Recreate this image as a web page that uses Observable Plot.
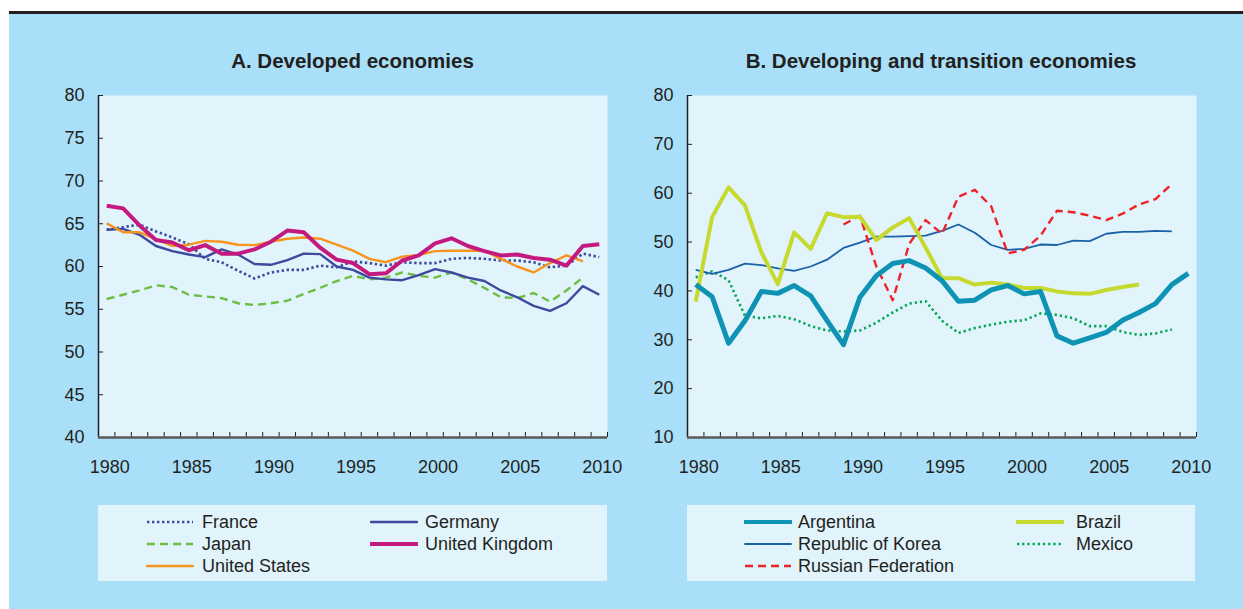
<!DOCTYPE html>
<html><head><meta charset="utf-8">
<script src="https://cdn.jsdelivr.net/npm/d3@7"></script>
<script src="https://cdn.jsdelivr.net/npm/@observablehq/plot@0.6"></script>
<style>
body{margin:0;background:#fff;font-family:Arial,"Liberation Sans",sans-serif;}
#wrap{position:relative;width:1243px;height:609px;overflow:hidden;background:#fff;}
#panel{position:absolute;left:9px;top:13px;width:1234px;height:596px;background:#a9dff8;}
#rule{position:absolute;left:9px;top:11px;width:1234px;height:2.5px;background:#231f20;}
.title{position:absolute;top:49px;font-weight:bold;font-size:20.5px;line-height:24px;color:#231f20;text-align:center;}
.chart{position:absolute;top:80px;}
.legend{position:absolute;top:505px;height:76px;background:#e1f4fb;}
.sw{position:absolute;}
.lt{position:absolute;font-size:18px;line-height:22px;color:#231f20;white-space:nowrap;}
</style></head>
<body>
<div id="wrap">
  <div id="panel"></div>
  <div id="rule"></div>
  <div class="title" style="left:98px;width:509px;">A. Developed economies</div>
  <div class="title" style="left:687px;width:508px;">B. Developing and transition economies</div>
  <div id="chartA" class="chart" style="left:40px;"></div>
  <div id="chartB" class="chart" style="left:629px;"></div>
  <div id="legA" class="legend" style="left:98px;width:509px;"></div>
  <div id="legB" class="legend" style="left:687px;width:508px;"></div>
</div>
<script>
const years = [1980,1981,1982,1983,1984,1985,1986,1987,1988,1989,1990,1991,1992,1993,1994,1995,1996,1997,1998,1999,2000,2001,2002,2003,2004,2005,2006,2007,2008,2009,2010];
const yearLabels = [1980,1985,1990,1995,2000,2005,2010];
const yTicksA = [40,45,50,55,60,65,70,75,80];
const yTicksB = [10,20,30,40,50,60,70,80];

// Panel A
const france = [64.3,64.6,64.9,64.1,63.4,62.6,60.9,60.5,59.5,58.6,59.3,59.6,59.6,60.1,59.9,60.6,60.4,60.1,60.5,60.4,60.4,60.9,61.0,60.9,60.7,60.7,60.5,59.9,60.1,61.5,61.1];
const germany = [64.3,64.4,63.7,62.4,61.8,61.4,61.1,62.0,61.4,60.3,60.2,60.75,61.5,61.45,60.0,59.6,58.7,58.5,58.4,59.0,59.7,59.3,58.7,58.3,57.2,56.4,55.4,54.8,55.7,57.7,56.7];
const japan = [56.2,56.7,57.2,57.8,57.6,56.7,56.5,56.3,55.7,55.5,55.7,56.0,56.8,57.5,58.3,58.9,58.5,58.7,59.3,58.9,58.7,59.3,58.5,57.5,56.4,56.3,56.9,55.9,57.2,58.7,null];
const uk = [67.1,66.8,64.8,63.1,62.8,61.9,62.5,61.5,61.5,62.0,62.9,64.2,64.0,62.2,60.8,60.4,59.1,59.2,60.7,61.3,62.7,63.3,62.4,61.8,61.3,61.4,61.0,60.8,60.1,62.4,62.6];
const us = [65.05,64.0,64.0,63.2,62.4,62.55,63.0,62.9,62.55,62.5,62.9,63.25,63.4,63.25,62.55,61.85,60.9,60.5,61.15,61.35,61.8,61.85,61.85,61.85,60.9,60.0,59.3,60.4,61.3,60.6,null];

// Panel B
const argentina = [41.3,38.8,29.3,33.9,39.9,39.5,41.1,39.0,33.9,29.0,38.7,43.1,45.6,46.2,44.7,42.1,37.9,38.1,40.2,41.1,39.4,39.9,30.8,29.3,30.4,31.5,34.0,35.6,37.4,41.3,43.6];
const brazil = [37.8,55.1,61.2,57.5,47.9,41.4,52.0,48.6,55.9,55.1,55.2,50.4,53.0,54.9,48.9,42.6,42.6,41.3,41.7,41.3,40.6,40.6,39.9,39.5,39.4,40.2,40.8,41.3,null,null,null];
const korea = [44.3,43.5,44.3,45.6,45.3,44.6,44.1,45.0,46.4,48.8,49.9,51.1,51.1,51.2,51.3,52.3,53.6,51.9,49.4,48.4,48.6,49.5,49.4,50.3,50.2,51.7,52.1,52.1,52.3,52.2,null];
const mexico = [42.8,44.0,42.2,34.9,34.4,34.9,34.2,32.8,31.9,31.7,31.9,33.5,35.6,37.4,37.9,33.9,31.4,32.4,33.1,33.7,34.0,35.4,35.1,34.4,32.8,32.8,31.6,31.0,31.3,32.1,null];
const russia = [null,null,null,null,null,null,null,null,null,53.6,55.4,45.0,38.1,49.6,54.5,51.7,59.3,60.7,57.3,47.7,48.4,51.3,56.4,56.1,55.4,54.5,55.8,57.7,58.8,61.9,null];

const seriesA = [
  {name:"France", values:france, stroke:"#3d4a9e", width:2.6, dash:"2.4,2.6", cap:"butt", col:0, row:0},
  {name:"Germany", values:germany, stroke:"#3d4a9e", width:2.4, dash:null, col:1, row:0},
  {name:"Japan", values:japan, stroke:"#6dbe45", width:2.4, dash:"8,5", col:0, row:1},
  {name:"United Kingdom", values:uk, stroke:"#c41a7f", width:4, dash:null, col:1, row:1},
  {name:"United States", values:us, stroke:"#f7941d", width:2.4, dash:null, col:0, row:2}
];
const seriesB = [
  {name:"Argentina", values:argentina, stroke:"#0e93b5", width:5, dash:null, col:0, row:0},
  {name:"Brazil", values:brazil, stroke:"#c5d92e", width:4, dash:null, col:1, row:0},
  {name:"Republic of Korea", values:korea, stroke:"#1a62a8", width:1.8, dash:null, col:0, row:1},
  {name:"Mexico", values:mexico, stroke:"#00a651", width:2.6, dash:"2.2,3", cap:"butt", col:1, row:1},
  {name:"Russian Federation", values:russia, stroke:"#ee2229", width:2.4, dash:"8,5", col:0, row:2}
];
const drawOrderA = ["Japan","France","Germany","United States","United Kingdom"];
const drawOrderB = ["Mexico","Republic of Korea","Russian Federation","Brazil","Argentina"];

const xDomain = [1979.5, 2010.5];
const edges = years.map(y => y - 0.5).concat([years[years.length-1] + 0.5]);

function chart(series, order, yDomain, yTicks) {
  const lines = order.map(n => series.find(s => s.name === n)).map(s =>
    Plot.lineY(years.map((y,i) => ({year:y, v:s.values[i]})), {
      x:"year", y:"v", stroke:s.stroke, strokeWidth:s.width,
      strokeDasharray:s.dash || undefined, strokeLinejoin:"round",
      strokeLinecap: s.cap || "butt"
    }));
  return Plot.plot({
    width:580, height:410,
    marginLeft:58, marginRight:13, marginTop:15, marginBottom:53,
    x:{domain:xDomain, axis:null, label:null},
    y:{domain:yDomain, axis:null, label:null},
    style:{fontFamily:"Arial, 'Liberation Sans', sans-serif", fontSize:"18px", color:"#231f20", background:"transparent", overflow:"visible"},
    marks:[
      Plot.frame({fill:"#e1f4fb", stroke:null}),
      Plot.axisY({ticks:yTicks, tickSize:-5, tickPadding:19, tickFormat:d=>String(d), stroke:"#231f20", fontSize:18, label:null}),
      Plot.axisX({ticks:edges, tickSize:-5, tickFormat:()=>"", stroke:"#231f20", label:null}),
      Plot.axisX({ticks:yearLabels, tickSize:0, tickPadding:23, tickFormat:d=>String(d), fontSize:18, dx:3, label:null}),
      ...lines,
      Plot.ruleX([xDomain[0]], {stroke:"#231f20", strokeWidth:1.5}),
      Plot.ruleY([yDomain[0]], {stroke:"#5a5a5a", strokeWidth:2.5})
    ]
  });
}

document.getElementById("chartA").appendChild(chart(seriesA, drawOrderA, [40,80], yTicksA));
document.getElementById("chartB").appendChild(chart(seriesB, drawOrderB, [10,80], yTicksB));

function legend(el, series, cols) {
  series.forEach(s => {
    const c = cols[s.col];
    const top = 6 + s.row * 22;
    const sw = document.createElementNS("http://www.w3.org/2000/svg","svg");
    sw.setAttribute("class","sw");
    sw.setAttribute("width", 48); sw.setAttribute("height", 22);
    sw.style.left = c.sw + "px"; sw.style.top = top + "px";
    const ln = document.createElementNS("http://www.w3.org/2000/svg","line");
    ln.setAttribute("x1", 1); ln.setAttribute("x2", 47);
    ln.setAttribute("y1", 11); ln.setAttribute("y2", 11);
    ln.setAttribute("stroke", s.stroke);
    ln.setAttribute("stroke-width", Math.min(s.width, 4));
    if (s.dash) ln.setAttribute("stroke-dasharray", s.dash);
    if (!s.dash) ln.setAttribute("stroke-linecap","round");
    sw.appendChild(ln);
    el.appendChild(sw);
    const t = document.createElement("div");
    t.className = "lt"; t.textContent = s.name;
    t.style.left = c.tx + "px"; t.style.top = top + "px";
    el.appendChild(t);
  });
}
legend(document.getElementById("legA"), seriesA, [{sw:48, tx:104},{sw:272, tx:327}]);
legend(document.getElementById("legB"), seriesB, [{sw:57, tx:111},{sw:329, tx:389}]);
</script>
</body></html>
